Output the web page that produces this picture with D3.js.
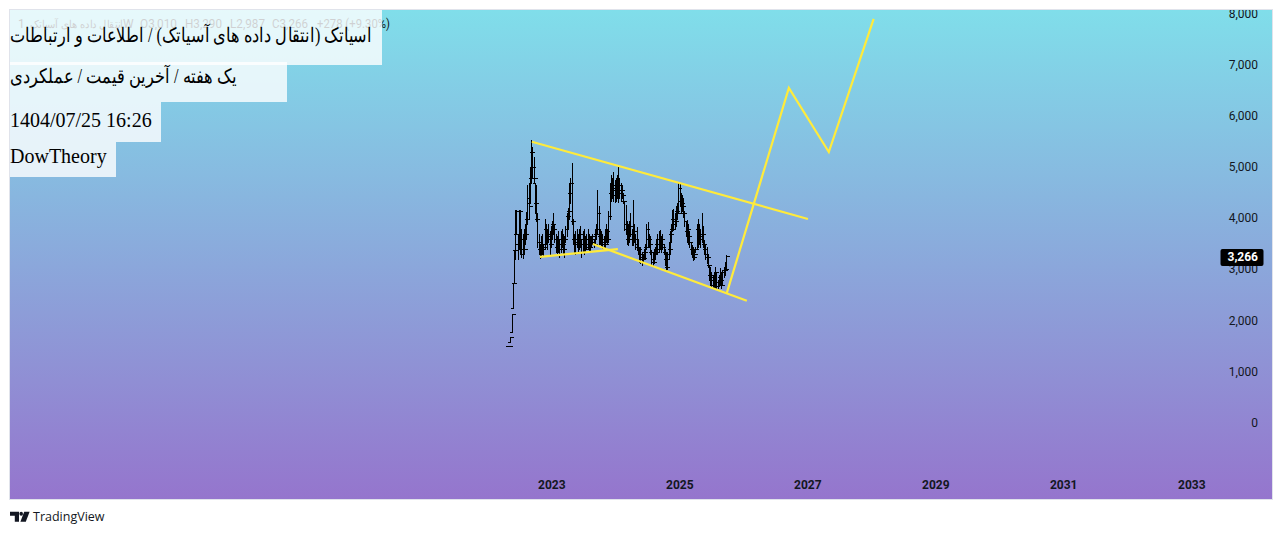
<!DOCTYPE html>
<html><head><meta charset="utf-8">
<script src="https://cdn.jsdelivr.net/npm/d3@7/dist/d3.min.js"></script>
<style>html,body{margin:0;padding:0;background:#fff;overflow:hidden}svg{display:block}</style>
</head><body><svg id="c" width="1282" height="535"></svg>
<script>
const firstWeek = "2022-04-24";
const highs = [1500,1500,1680,2130,2740,3390,4170,4170,3700,4170,
4170,3800,3700,3800,3900,4130,4650,4700,5000,5530,
5400,5200,4700,4650,4100,3700,3500,3650,3700,3500,
4000,3900,3800,3900,3750,3850,3950,4100,3900,3700,
3650,3750,3600,3750,3800,3700,3650,3850,4100,4200,
4700,4800,5090,4000,3700,3750,3800,3700,3800,3850,
3600,3750,3800,3650,3700,3800,3700,3650,3650,3700,
3600,3800,3900,4560,4250,3800,3750,3700,3650,3800,
3900,3800,4150,4700,4850,4800,4900,4750,4800,4850,
5000,4800,4700,4650,4500,4350,4260,3950,3900,3950,
4100,3800,4360,3900,3700,3840,3600,3450,3420,3350,
3300,3400,3500,3900,3930,3700,3650,3380,3350,3400,
3450,3600,3700,3750,3780,3650,3700,3500,3400,3330,
3350,3550,3750,3900,4170,4180,4100,4250,4300,4700,
4680,4500,4450,4400,4150,3950,3970,3900,3750,3550,
3480,3450,3400,3450,3900,4000,3900,3800,4110,3850,
3580,3500,3450,3300,3100,3050,2950,2900,2950,3050,
2950,2800,2900,3040,2950,3000,3050,3150,3290];
const lows = [1500,1500,1580,1780,2250,2740,3200,3700,3200,3400,
3300,3250,3230,3300,3500,3600,3900,4000,4300,4700,
4800,4700,4100,3950,3450,3300,3230,3250,3300,3280,
3400,3500,3400,3550,3300,3450,3600,3700,3550,3350,
3300,3350,3250,3350,3450,3300,3250,3550,3650,3800,
4000,4300,3900,3500,3350,3300,3450,3350,3400,3450,
3250,3350,3300,3350,3400,3400,3350,3350,3450,3500,
3450,3500,3600,3700,3500,3500,3450,3420,3430,3450,
3550,3500,3550,4000,4350,4400,4350,4320,4350,4400,
4320,4400,4350,4400,4300,3780,3700,3500,3480,3550,
3650,3480,3480,3550,3400,3380,3300,3150,3130,3100,
3150,3200,3250,3400,3450,3440,3300,3100,3090,3120,
3200,3300,3330,3350,3400,3350,3400,3300,3100,3000,
3020,3200,3300,3550,3750,3780,3800,3850,4000,4100,
4250,4100,4150,4030,3850,3650,3550,3500,3440,3300,
3250,3190,3200,3350,3400,3450,3500,3450,3550,3450,
3300,3200,3130,3050,2800,2700,2660,2640,2640,2650,
2640,2640,2680,2700,2650,2700,2860,2900,2987];
const closes = [1500,1500,1680,2130,2740,3390,3500,4150,3500,4150,
3400,3300,3600,3400,3700,4000,4400,4250,4800,5300,
5000,4800,4300,4000,3550,3400,3300,3500,3400,3450,
3800,3600,3700,3650,3500,3700,3900,3800,3600,3450,
3500,3400,3400,3600,3500,3400,3600,3800,4050,4150,
4500,4700,3950,3600,3500,3600,3550,3450,3700,3500,
3350,3600,3400,3500,3450,3600,3450,3550,3600,3650,
3500,3700,3800,4100,3650,3600,3550,3500,3600,3500,
3750,3600,4050,4500,4550,4650,4600,4450,4700,4500,
4650,4500,4550,4450,4350,3900,3800,3600,3700,3850,
3700,3600,3750,3600,3500,3450,3400,3300,3250,3200,
3220,3350,3450,3800,3600,3500,3350,3200,3150,3300,
3350,3500,3400,3600,3500,3600,3450,3350,3200,3050,
3300,3400,3700,3800,4000,3900,3950,4150,4100,4600,
4350,4300,4250,4100,3950,3750,3800,3650,3550,3400,
3350,3250,3300,3400,3800,3600,3700,3650,3700,3500,
3400,3300,3250,3100,2900,2850,2700,2800,2680,2950,
2680,2750,2850,2800,2700,2950,3000,3010,3266];

const channelTop = [["2022-09-08",5500],["2027-01-01",3990]];
const baseLine = [["2022-10-24",3250],["2024-01-12",3400]];
const channelBottom = [["2023-08-22",3500],["2026-01-17",2390]];
const projection = [["2025-09-25",2544],["2026-09-14",6555],["2027-04-30",5300],["2028-01-11",7905]];
const priceTicks = [0,1000,2000,3000,4000,5000,6000,7000,8000];
const yearTicks = [2023,2025,2027,2029,2031,2033];
const lastClose = 3266;
const titleLines = ["اسیاتک (انتقال داده های آسیاتک) / اطلاعات و ارتباطات","یک هفته / آخرین قیمت / عملکردی","1404/07/25 16:26","DowTheory"];
const legendName = "انتقال داده های آسیاتک";
const legendValues = ["1","W","O3,010","H3,290","L2,987","C3,266","+278 (+9.30%)"];

const P = {l:10,r:1272,t:10,b:499};
const svg = d3.select("#c");
const defs = svg.append("defs");
const g = defs.append("linearGradient").attr("id","bg").attr("x1",0).attr("x2",0).attr("y1",0).attr("y2",1);
g.append("stop").attr("offset",0).attr("stop-color","#80deea");
g.append("stop").attr("offset",1).attr("stop-color","#9575cd");
defs.append("clipPath").attr("id","plot").append("rect").attr("x",P.l).attr("y",P.t).attr("width",P.r-P.l).attr("height",P.b-P.t);

svg.append("rect").attr("x",P.l-.5).attr("y",P.t-.5).attr("width",P.r-P.l+1).attr("height",P.b-P.t+1).attr("fill","url(#bg)").attr("stroke","#e0e3eb");

const parse = d3.utcParse("%Y-%m-%d");
const x = d3.scaleUtc().domain([new Date(Date.UTC(2023,0,1)),new Date(Date.UTC(2033,0,1))]).range([552,1192]);
const y = d3.scaleLinear().domain([0,8000]).range([423,14]);

const root = svg.append("g").attr("clip-path","url(#plot)");

const fontR = "Roboto, sans-serif";
const ya = root.append("g").attr("transform","translate(1258,-0.5)")
  .call(d3.axisLeft(y).tickValues(priceTicks).tickSize(0).tickPadding(0).tickFormat(d3.format(",")));
ya.select(".domain").remove();
ya.selectAll("text").attr("font-family",fontR).attr("font-size",12).attr("fill","#131722");
const xa = root.append("g").attr("transform","translate(-0.7,480.5)")
  .call(d3.axisBottom(x).tickValues(yearTicks.map(v=>new Date(Date.UTC(v,0,1)))).tickSize(0).tickPadding(0).tickFormat(d3.utcFormat("%Y")));
xa.select(".domain").remove();
xa.selectAll("text").attr("font-family",fontR).attr("font-size",12).attr("font-weight",700).attr("fill","#131722");

const start = parse(firstWeek);
const clamp = (v,a,b)=>Math.max(a,Math.min(b,v));
const bars = closes.map((c,i)=>({d:d3.utcWeek.offset(start,i),c,h:highs[i],l:lows[i],o:i?clamp(closes[i-1],lows[i],highs[i]):c}));
const px = d=>Math.round(x(d))+.5;
const bg = root.append("g").attr("stroke","#000").attr("stroke-width",1).attr("fill","none").attr("shape-rendering","crispEdges");
bg.selectAll("path").data(bars).join("path").attr("d",b=>{
  const X=px(b.d);
  return `M${X},${Math.round(y(b.h))}V${Math.round(y(b.l))+1}M${X-3},${Math.round(y(b.o))+.5}H${X}M${X},${Math.round(y(b.c))+.5}H${X+3}`;
});

const line = d3.line().x(d=>x(parse(d[0]))).y(d=>y(d[1]));
root.append("g").attr("fill","none").attr("stroke","#ffeb3b").attr("stroke-width",2.2)
  .selectAll("path").data([channelTop,baseLine,channelBottom,projection]).join("path").attr("d",line);

const tag = root.append("g");
tag.append("rect").attr("x",1220.5).attr("y",249).attr("width",43).attr("height",17).attr("rx",2).attr("fill","#000");
tag.append("text").attr("x",1258).attr("y",y(lastClose)+5).attr("text-anchor","end").attr("font-family",fontR).attr("font-size",12).attr("font-weight",700).attr("fill","#fff").text(d3.format(",")(lastClose));

const lg = root.append("g").attr("font-family",fontR).attr("font-size",12).attr("fill","#131722");
const lgx = [18,123,140,185,230,272,317];
const lgw = [0,0,37,37,35,36,73];
legendValues.forEach((t,i)=>{
  const e=lg.append("text").attr("x",lgx[i]).attr("y",28).text(t);
  if(lgw[i]) e.attr("textLength",lgw[i]).attr("lengthAdjust","spacingAndGlyphs");
});
lg.append("text").attr("x",30).attr("y",28).attr("font-size",11).attr("textLength",93).attr("lengthAdjust","spacingAndGlyphs").text(legendName);

const boxes = [[10,382,10,65],[10,287,62,102],[10,161,102,142],[10,116,142,177]];
const bases = [42,83,127,163];
const startX = [10,10,10,10];
const fitW = [362,227,0,0];
titleLines.forEach((t,i)=>{
  const b=boxes[i];
  svg.append("rect").attr("x",b[0]).attr("y",b[2]).attr("width",b[1]-b[0]).attr("height",b[3]-b[2]).attr("fill","#fff").attr("fill-opacity",.8);
});
titleLines.forEach((t,i)=>{
  const e=svg.append("text").attr("x",startX[i]).attr("y",bases[i])
    .attr("font-family","'Liberation Serif','Times New Roman',serif").attr("font-size",20).attr("fill","#000").text(t);
  if(fitW[i]) e.attr("textLength",fitW[i]).attr("lengthAdjust","spacingAndGlyphs");
});

const lx = svg.append("g").attr("transform","translate(10,511.7) scale(1,1.11)").attr("fill","#131722");
lx.append("path").attr("d","M0 0H9V9H4.8V3.6H0Z");
lx.append("circle").attr("cx",11.2).attr("cy",1.8).attr("r",1.8);
lx.append("path").attr("d","M14.2 0H19.6L15.8 9H10.4Z");
svg.append("text").attr("x",33).attr("y",521).attr("font-family","'Open Sans',sans-serif").attr("font-size",12.5).attr("fill","#131722").text("TradingView");
</script></body></html>
